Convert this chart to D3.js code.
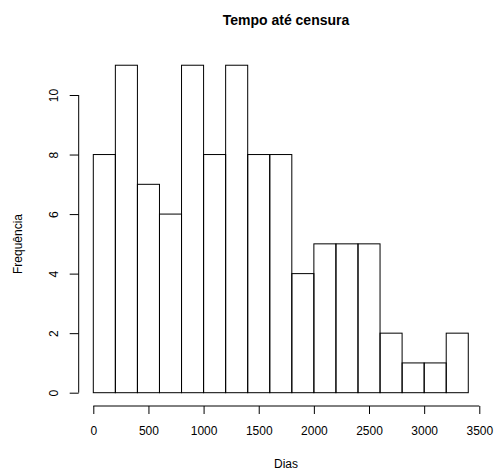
<!DOCTYPE html>
<html><head><meta charset="utf-8">
<script src="https://cdn.jsdelivr.net/npm/d3@7"></script>
<style>body{margin:0;background:#fff}</style>
</head><body>
<script>
const binStarts = [0,200,400,600,800,1000,1200,1400,1600,1800,2000,2200,2400,2600,2800,3000,3200];
const binWidth = 200;
const counts = [8,11,7,6,11,8,11,8,8,4,5,5,5,2,1,1,2];
const xTicks = [0,500,1000,1500,2000,2500,3000,3500];
const yTicks = [0,2,4,6,8,10];
const title = "Tempo até censura";
const xLabel = "Dias";
const yLabel = "Frequência";

const W = 496, H = 475;
const FONT = "'Liberation Sans', Arial, sans-serif";
const svg = d3.select("body").append("svg").attr("width", W).attr("height", H)
  .style("font-family", FONT);

const x = d3.scaleLinear().domain([0, 3500]).range([93.3, 479.3]);
const y = d3.scaleLinear().domain([0, 10]).range([392.7, 95]);

svg.append("g").selectAll("rect").data(counts).join("rect")
  .attr("x", (d,i) => x(binStarts[i]))
  .attr("y", d => y(d))
  .attr("width", (d,i) => x(binStarts[i] + binWidth) - x(binStarts[i]))
  .attr("height", d => y(0) - y(d))
  .attr("fill", "none").attr("stroke", "#000").attr("stroke-width", 1);

const xAxis = svg.append("g").attr("transform", "translate(0,406)")
  .call(d3.axisBottom(x).tickValues(xTicks).tickSize(8).tickPadding(12).tickFormat(d3.format("d")));
xAxis.selectAll("text").attr("font-size", 12).attr("font-family", FONT).attr("fill","#000");

const yAxis = svg.append("g").attr("transform", "translate(78.7,0)")
  .call(d3.axisLeft(y).tickValues(yTicks).tickSize(9).tickFormat(d3.format("d")));
yAxis.selectAll("text")
  .attr("font-size", 12).attr("font-family", FONT).attr("fill","#000")
  .attr("x", 0).attr("y", 0).attr("dy", "0.35em")
  .attr("text-anchor", "middle")
  .attr("transform", "translate(-24.5,0) rotate(-90)");
[xAxis, yAxis].forEach(a => {
  a.selectAll("path, line").attr("stroke", "#000");
  a.select(".domain").remove();
});
xAxis.append("line").attr("x1", x(0)).attr("x2", x(3500)).attr("stroke", "#000");
yAxis.append("line").attr("y1", y(0)).attr("y2", y(10)).attr("stroke", "#000");

svg.append("text").attr("x", 286).attr("y", 25).attr("text-anchor", "middle")
  .attr("font-size", 14).attr("font-weight", "bold").text(title);
svg.append("text").attr("x", 286).attr("y", 468).attr("text-anchor", "middle")
  .attr("font-size", 12).text(xLabel);
svg.append("text").attr("transform", "translate(22,244) rotate(-90)").attr("text-anchor", "middle")
  .attr("font-size", 12).text(yLabel);
</script>
</body></html>
